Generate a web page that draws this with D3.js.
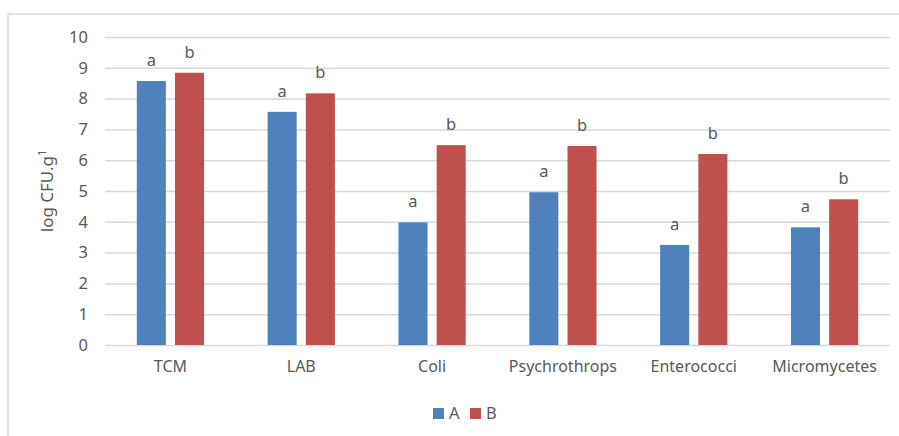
<!DOCTYPE html>
<html><head><meta charset="utf-8">
<script src="https://cdn.jsdelivr.net/npm/d3@7"></script>
<style>body{margin:0;background:#fff}svg{display:block}text{font-family:"Noto Sans",sans-serif;fill:#595959}</style>
</head><body>
<svg id="c" width="899" height="436"></svg>
<script>
const categories = ["TCM","LAB","Coli","Psychrothrops","Enterococci","Micromycetes"];
const seriesNames = ["A","B"];
const valuesA = [8.57, 7.57, 3.98, 4.96, 3.25, 3.82];
const valuesB = [8.84, 8.17, 6.49, 6.46, 6.20, 4.73];
const labelsA = ["a","a","a","a","a","a"];
const labelsB = ["b","b","b","b","b","b"];
const yTicks = [0,1,2,3,4,5,6,7,8,9,10];
const colors = ["#4f81bd","#c0504d"];

const svg = d3.select("#c");
const L = 105, R = 890, T = 37, B = 345;

svg.append("rect").attr("x",8).attr("y",14).attr("width",1000).attr("height",1000)
  .attr("fill","none").attr("stroke","#d9d9d9").attr("stroke-width",1.5);

const x = d3.scaleBand().domain(categories).range([L,R]);
const y = d3.scaleLinear().domain([0,10]).range([B,T]);

const yAxis = d3.axisLeft(y).tickValues(yTicks).tickSize(-(R-L)).tickPadding(17);
const gy = svg.append("g").attr("transform",`translate(${L},0)`).call(yAxis);
gy.select(".domain").remove();
gy.selectAll(".tick line").attr("stroke","#d9d9d9").attr("stroke-width",1.5);
gy.selectAll(".tick text").style("font-size","16.5px").attr("fill","#595959");

const xAxis = d3.axisBottom(x).tickSize(0).tickPadding(16);
const gx = svg.append("g").attr("transform",`translate(0,${B})`).call(xAxis);
gx.select(".domain").remove();
gx.selectAll(".tick text").style("font-size","16px").attr("fill","#595959");

const bw = x.bandwidth();
const barW = bw*0.222, gap = bw*0.07;
const sub = d3.scaleOrdinal().domain(seriesNames).range([bw/2 - gap/2 - barW, bw/2 + gap/2]);

const data = [];
categories.forEach((c,i)=>{
  data.push({c, s:"A", v:valuesA[i], l:labelsA[i]});
  data.push({c, s:"B", v:valuesB[i], l:labelsB[i]});
});
const col = d3.scaleOrdinal().domain(seriesNames).range(colors);

svg.append("g").selectAll("rect").data(data).join("rect")
  .attr("x",d=>x(d.c)+sub(d.s)).attr("width",barW)
  .attr("y",d=>y(d.v)).attr("height",d=>B-y(d.v))
  .attr("fill",d=>col(d.s));

svg.append("g").selectAll("text").data(data).join("text")
  .attr("x",d=>x(d.c)+sub(d.s)+barW/2).attr("y",d=>y(d.v)-15)
  .attr("text-anchor","middle").style("font-size","16.5px").text(d=>d.l);

const yt = svg.append("text").attr("transform",`translate(53,${(T+B)/2}) rotate(-90)`)
  .attr("text-anchor","middle").style("font-size","17px");
yt.append("tspan").text("log CFU.g");
yt.append("tspan").attr("dy",-7).style("font-size","11px").text("1");

const lg = svg.append("g");
const lx = [433, 470];
seriesNames.forEach((s,i)=>{
  lg.append("rect").attr("x",lx[i]).attr("y",408).attr("width",11).attr("height",11).attr("fill",colors[i]);
  lg.append("text").attr("x",lx[i]+16).attr("y",419).style("font-size","16.5px").text(s);
});
</script>
</body></html>
